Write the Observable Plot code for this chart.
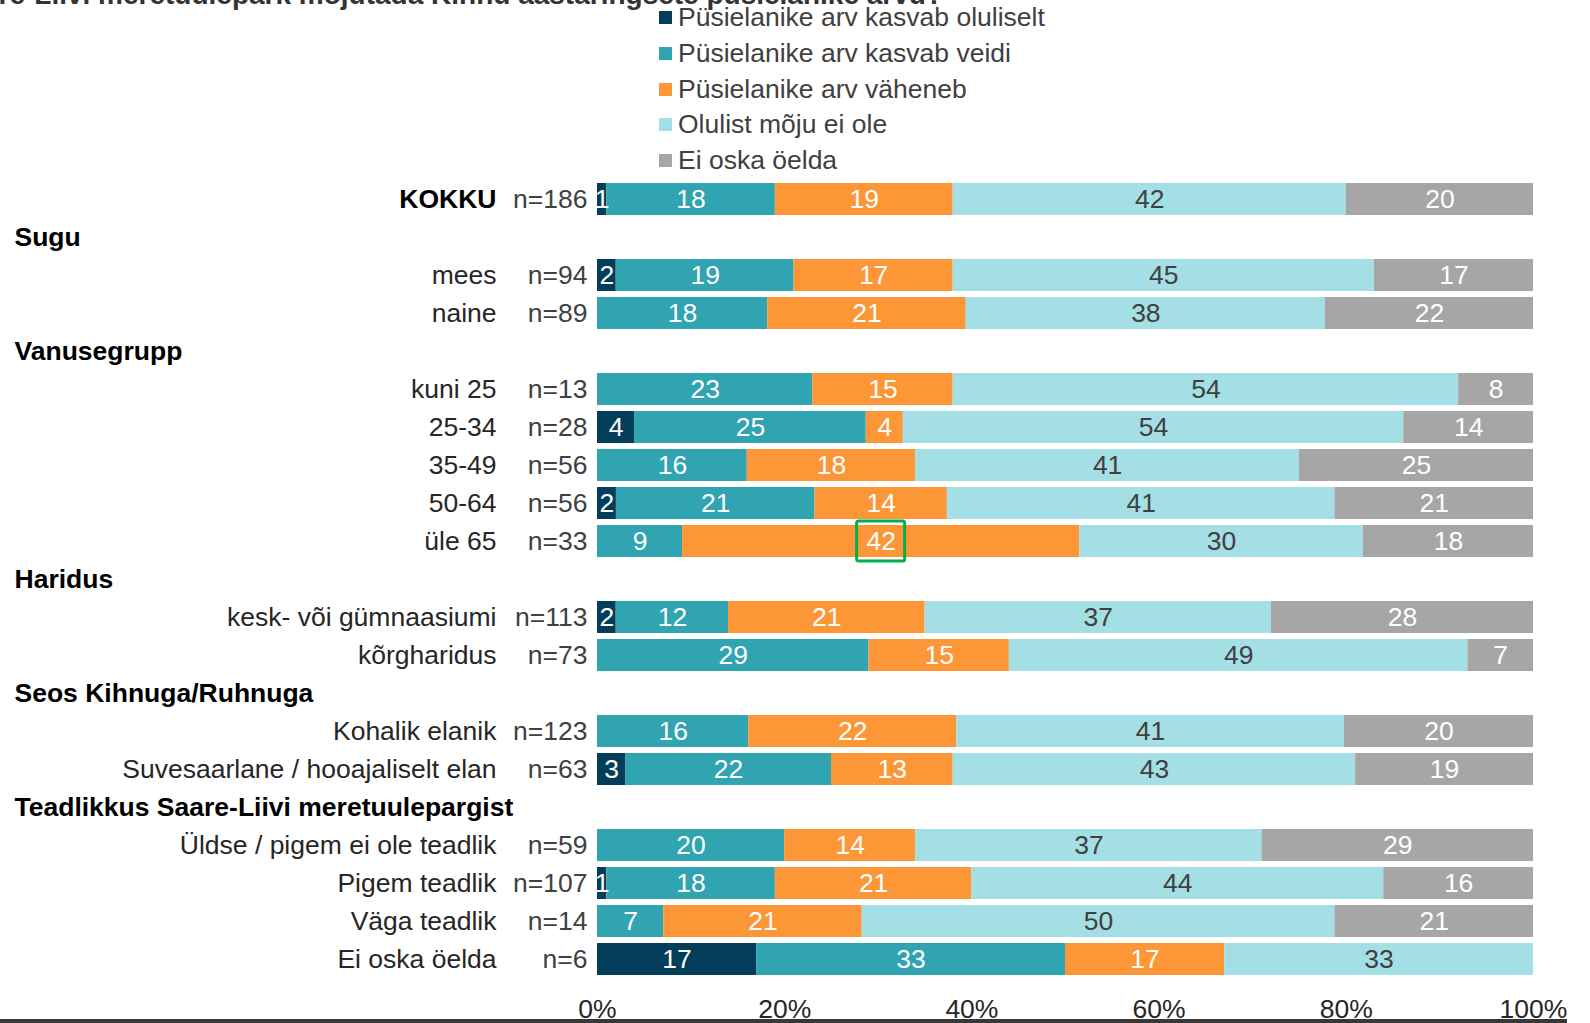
<!DOCTYPE html>
<html>
<head>
<meta charset="utf-8">
<script src="https://cdn.jsdelivr.net/npm/d3@7"></script>
<script src="https://cdn.jsdelivr.net/npm/@observablehq/plot@0.6"></script>
<style>
  html, body { margin: 0; padding: 0; background: #fff; overflow: hidden; }
  #wrap { position: relative; width: 1590px; height: 1023px; font-family: "Liberation Sans", Arial, sans-serif; }
  #title { position: absolute; right: 647px; top: -19px; white-space: nowrap; font-size: 28px; line-height: 28px; font-weight: bold; color: #333; }
  #legend { position: absolute; left: 659px; top: 0px; z-index: 2; }
  .li { display: flex; align-items: center; height: 35.7px; font-size: 26.5px; color: #404040; }
  .sw { width: 13px; height: 13px; margin-right: 6px; flex: none; }
  #chart { position: absolute; left: 0; top: 0; }
  #bottomline { position: absolute; left: 0; top: 1019px; width: 1567px; height: 4px; background: #383838; z-index: 3; }
</style>
</head>
<body>
<div id="wrap">
  <div id="chart"></div>
  <div id="title">Kuidas võiks Saare-Liivi meretuulepark mõjutada Kihnu aastaringsete püsielanike arvu?</div>
  <div id="legend"></div>
  <div id="bottomline"></div>
</div>
<script>
// ---- data ----
const seriesNames = [
  "Püsielanike arv kasvab oluliselt",
  "Püsielanike arv kasvab veidi",
  "Püsielanike arv väheneb",
  "Olulist mõju ei ole",
  "Ei oska öelda"
];
const seriesColors = ["#033d5a", "#31a4b1", "#fd9637", "#a5dfe6", "#a6a6a6"];
const darkTextSeries = ["Olulist mõju ei ole"];

const categories = [
  "KOKKU", "mees", "naine",
  "kuni 25", "25-34", "35-49", "50-64", "üle 65",
  "kesk- või gümnaasiumi", "kõrgharidus",
  "Kohalik elanik", "Suvesaarlane / hooajaliselt elan",
  "Üldse / pigem ei ole teadlik", "Pigem teadlik", "Väga teadlik", "Ei oska öelda"
];
const categoryGroups = [
  null, "Sugu", "Sugu",
  "Vanusegrupp", "Vanusegrupp", "Vanusegrupp", "Vanusegrupp", "Vanusegrupp",
  "Haridus", "Haridus",
  "Seos Kihnuga/Ruhnuga", "Seos Kihnuga/Ruhnuga",
  "Teadlikkus Saare-Liivi meretuulepargist", "Teadlikkus Saare-Liivi meretuulepargist",
  "Teadlikkus Saare-Liivi meretuulepargist", "Teadlikkus Saare-Liivi meretuulepargist"
];
const nCounts = [186, 94, 89, 13, 28, 56, 56, 33, 113, 73, 123, 63, 59, 107, 14, 6];

const kasvabOluliselt = [1, 2, 0, 0, 4, 0, 2, 0, 2, 0, 0, 3, 0, 1, 0, 17];
const kasvabVeidi     = [18, 19, 18, 23, 25, 16, 21, 9, 12, 29, 16, 22, 20, 18, 7, 33];
const vaheneb         = [19, 17, 21, 15, 4, 18, 14, 42, 21, 15, 22, 13, 14, 21, 21, 17];
const mojuEiOle       = [42, 45, 38, 54, 54, 41, 41, 30, 37, 49, 41, 43, 37, 44, 50, 33];
const eiOskaOelda     = [20, 17, 22, 8, 14, 25, 21, 18, 28, 7, 20, 19, 29, 16, 21, 0];
const seriesValues = [kasvabOluliselt, kasvabVeidi, vaheneb, mojuEiOle, eiOskaOelda];

const xTicks = [0, 0.2, 0.4, 0.6, 0.8, 1];
const highlight = {category: "üle 65", series: "Püsielanike arv väheneb"};

// ---- derived ----
const rowOrder = [];
const groupHeaders = [];
let lastGroup = null;
categories.forEach((c, i) => {
  const g = categoryGroups[i];
  if (g && g !== lastGroup) { rowOrder.push(g); groupHeaders.push(g); }
  lastGroup = g;
  rowOrder.push(c);
});

const segments = [];
categories.forEach((c, i) => {
  const vals = seriesValues.map(a => a[i]);
  const total = d3.sum(vals);
  let acc = 0;
  vals.forEach((v, j) => {
    segments.push({category: c, series: seriesNames[j], value: v, x1: acc / total, x2: (acc + v) / total});
    acc += v;
  });
});
const hlSeg = segments.filter(d => d.category === highlight.category && d.series === highlight.series);

const fontSize = 26.5;
const chart = Plot.plot({
  width: 1590,
  height: 1023,
  marginLeft: 597,
  marginRight: 57,
  marginTop: 179,
  marginBottom: 44,
  style: {fontFamily: "'Liberation Sans', Arial, sans-serif", fontSize: "26px", background: "transparent", overflow: "visible"},
  x: {domain: [0, 1], label: null},
  y: {domain: rowOrder, axis: null, paddingInner: 0.16, paddingOuter: 0.08},
  color: {domain: seriesNames, range: seriesColors},
  marks: [
    Plot.barX(segments, {x1: "x1", x2: "x2", y: "category", fill: "series"}),
    Plot.text(segments.filter(d => d.value > 0 && !darkTextSeries.includes(d.series)), {
      x: d => (d.x1 + d.x2) / 2, y: "category", text: d => String(d.value),
      fill: "white", fontSize
    }),
    Plot.text(segments.filter(d => d.value > 0 && darkTextSeries.includes(d.series)), {
      x: d => (d.x1 + d.x2) / 2, y: "category", text: d => String(d.value),
      fill: "#404040", fontSize
    }),
    Plot.barX(hlSeg, {
      x1: d => (d.x1 + d.x2) / 2, x2: d => (d.x1 + d.x2) / 2, y: "category",
      insetLeft: -24, insetRight: -24, insetTop: -4, insetBottom: -4,
      fill: "none", stroke: "#00b050", strokeWidth: 3, rx: 2
    }),
    // category labels
    Plot.text(categories.filter(c => c === "KOKKU"), {
      y: d => d, text: d => d, frameAnchor: "left", textAnchor: "end", dx: -101,
      fontSize, fontWeight: "bold", fill: "#000"
    }),
    Plot.text(categories.filter(c => c !== "KOKKU"), {
      y: d => d, text: d => d, frameAnchor: "left", textAnchor: "end", dx: -101,
      fontSize, fill: "#262626"
    }),
    // n labels
    Plot.text(categories, {
      y: d => d, text: (d, i) => "n=" + nCounts[i], frameAnchor: "left", textAnchor: "end", dx: -10,
      fontSize, fill: "#404040"
    }),
    // group headers
    Plot.text(groupHeaders, {
      y: d => d, text: d => d, frameAnchor: "left", textAnchor: "start", dx: -583,
      fontSize, fontWeight: "bold", fill: "#000"
    }),
    Plot.axisX({
      anchor: "bottom", ticks: xTicks, tickSize: 0, tickPadding: 20,
      tickFormat: d => Math.round(d * 100) + "%", fontSize, fill: "#262626", label: null
    })
  ]
});
document.getElementById("chart").appendChild(chart);

// legend
const legend = document.getElementById("legend");
seriesNames.forEach((s, i) => {
  const row = document.createElement("div");
  row.className = "li";
  const sw = document.createElement("span");
  sw.className = "sw";
  sw.style.background = seriesColors[i];
  const tx = document.createElement("span");
  tx.textContent = s;
  row.appendChild(sw);
  row.appendChild(tx);
  legend.appendChild(row);
});
</script>
</body>
</html>
